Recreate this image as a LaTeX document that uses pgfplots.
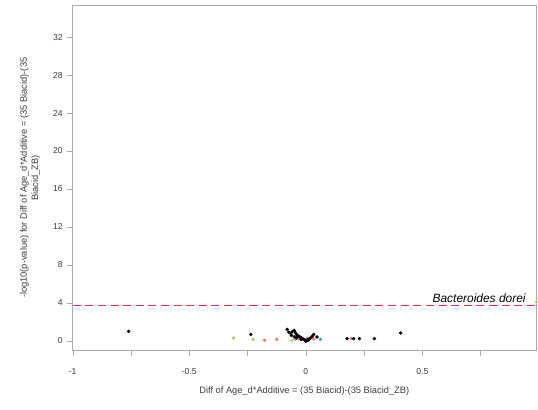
\documentclass[border=0pt]{standalone}
\usepackage{pgfplots}
\pgfplotsset{compat=1.18}
\usepackage{fontspec}
\setmainfont{Liberation Sans}
\definecolor{ptblack}{RGB}{10,10,10}
\definecolor{ptgreen}{RGB}{185,200,110}
\definecolor{ptred}{RGB}{230,120,115}
\definecolor{pteal}{RGB}{90,165,165}
\definecolor{axgray}{RGB}{170,170,170}
\definecolor{txtgray}{RGB}{60,60,60}
\begin{document}
\begin{tikzpicture}[x=0.75pt,y=0.75pt]
\begin{axis}[
  at={(0,0)}, anchor=south west,
  scale only axis,
  width=348.75pt, height=260.25pt,
  xmin=-1, xmax=0.987, ymin=-1.05, ymax=35.4,
  axis line style={axgray},
  xtick={-1,-0.5,0,0.5},
  minor xtick={-0.75,-0.25,0.25,0.75},
  xticklabels={-1,-0.5,0,0.5},
  ytick={0,4,...,32},
  tick align=outside,
  tick pos=left,
  major tick length=4pt,
  minor tick length=4pt,
  tick style={axgray},
  /pgf/number format/assume math mode=true,
  tick label style={font=\fontsize{6.5}{7}\selectfont, text=txtgray},
  xticklabel style={yshift=-6pt},
  xlabel={Diff of Age\_d*Additive = (35 Biacid)-(35 Biacid\_ZB)},
  ylabel={-log10(p-value) for Diff of Age\_d*Additive = (35 Biacid)-(35\\Biacid\_ZB)},
  label style={font=\fontsize{7}{8.5}\selectfont, text=txtgray},
  ylabel style={align=center, yshift=3pt},
  xlabel style={yshift=-2pt},
  clip=false,
]
\addplot[draw={rgb,255:red,235;green,45;blue,75}, line width=1.1pt, dash pattern=on 6pt off 3.5pt, mark=none, forget plot] coordinates {(-1,3.7) (0.987,3.7)};
\addplot[only marks, mark=*, mark size=1.1pt, draw=ptgreen, fill=ptgreen] coordinates {
(-0.31,0.28) (-0.226,0.14) (-0.06,0.03) (0.99,4.1)
};
\addplot[only marks, mark=*, mark size=1.1pt, draw=ptred, fill=ptred] coordinates {
(-0.177,0.03) (-0.125,0.14) (-0.03,0.2) (-0.045,0.15) (0.034,0.18) (0.195,0.21) (0.005,0.25)
};
\addplot[only marks, mark=*, mark size=1.1pt, draw=pteal, fill=pteal] coordinates {
(0.063,0.14)
};
\addplot[only marks, mark=*, mark size=1.1pt, draw=ptblack, fill=ptblack] coordinates {
(-0.76,0.98) (-0.236,0.66)
(-0.08,1.19) (-0.073,0.9) (-0.05,1.08) (-0.065,0.75) (-0.058,0.95) (-0.045,0.85)
(-0.04,0.65) (-0.035,0.55) (-0.03,0.45) (-0.025,0.38) (-0.02,0.3) (-0.015,0.22)
(-0.01,0.15) (-0.005,0.08) (0,-0.07) (0.005,0.05) (0.01,0.12) (0.015,0.2)
(0.02,0.28) (0.025,0.4) (0.03,0.52) (0.034,0.66) (0.048,0.39) (-0.05,0.4)
(-0.04,0.3) (-0.02,0.12) (0.01,0.02) (-0.062,0.55)
(0.177,0.21) (0.205,0.21) (0.23,0.21) (0.294,0.21) (0.407,0.81)
};
\node[anchor=south east, font=\fontsize{9}{10}\selectfont\itshape, inner sep=1pt] at (axis cs:0.95,3.85) {Bacteroides dorei};
\end{axis}
\path[use as bounding box] (-73,-59) rectangle (465,352);
\end{tikzpicture}
\end{document}
